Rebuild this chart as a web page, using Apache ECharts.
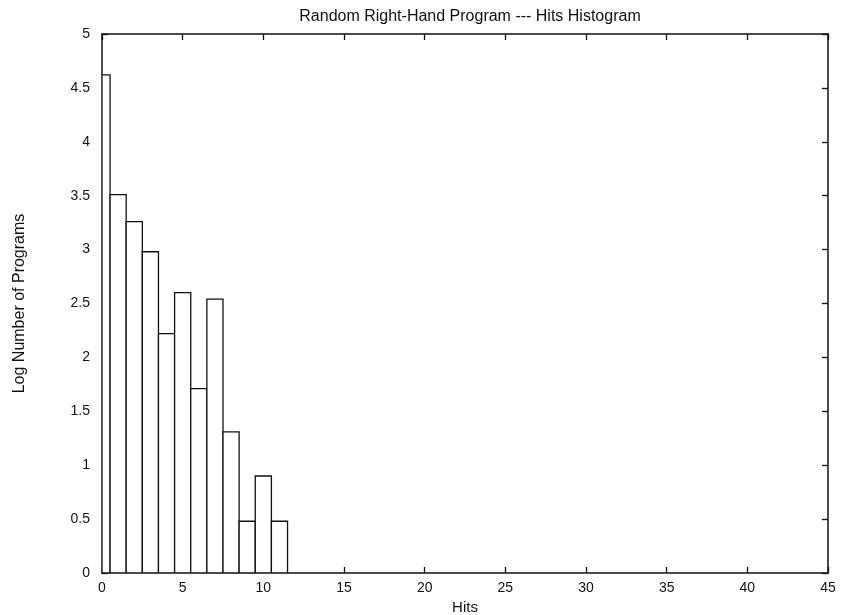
<!DOCTYPE html>
<html>
<head>
<meta charset="utf-8">
<script src="https://cdn.jsdelivr.net/npm/echarts@6/dist/echarts.min.js"></script>
<style>
  html, body { margin: 0; padding: 0; background: #fff; }
  #hits_chart { width: 841px; height: 615px; }
</style>
</head>
<body>
<div id="hits_chart"></div>
<script>
// hits histogram (log counts)
var hits = [0, 1, 2, 3, 4, 5, 6, 7, 8, 9, 10, 11];
var logPrograms = [4.62, 3.51, 3.26, 2.98, 2.22, 2.60, 1.71, 2.54, 1.31, 0.48, 0.90, 0.48];
var xTicks = [0, 5, 10, 15, 20, 25, 30, 35, 40, 45];
var yTicks = [0, 0.5, 1, 1.5, 2, 2.5, 3, 3.5, 4, 4.5, 5];

var chart = echarts.init(document.getElementById('hits_chart'));

var boxData = [];
for (var i = 0; i < hits.length; i++) {
    boxData.push([hits[i], logPrograms[i]]);
}

var font = 'Liberation Sans, Arial, sans-serif';
var black = '#111';

function renderBox(params, api) {
    var x = api.value(0);
    var v = api.value(1);
    var left = Math.max(x - 0.5, 0);
    var p0 = api.coord([left, 0]);
    var p1 = api.coord([x + 0.5, v]);
    return {
        type: 'rect',
        shape: { x: p0[0], y: p1[1], width: p1[0] - p0[0], height: p0[1] - p1[1] },
        style: { fill: '#fff', stroke: black, lineWidth: 1.3 }
    };
}

function makeAxis(extra) {
    var a = {
        type: 'value',
        axisLine: { show: true, onZero: false, lineStyle: { color: black, width: 1.5 } },
        axisTick: { show: true, inside: true, length: 6, lineStyle: { color: black, width: 1.3 } },
        splitLine: { show: false }
    };
    for (var k in extra) a[k] = extra[k];
    return a;
}

var option = {
    backgroundColor: '#fff',
    animation: false,
    title: {
        text: 'Random Right-Hand Program --- Hits Histogram',
        left: 465,
        textAlign: 'center',
        top: 4,
        textStyle: { fontFamily: font, fontSize: 16, fontWeight: 'normal', color: black }
    },
    grid: { left: 102, right: 13, top: 34, bottom: 42, outerBoundsMode: 'none', containLabel: false },
    xAxis: [
        makeAxis({
            min: 0, max: 45, interval: 5,
            position: 'bottom',
            name: 'Hits',
            nameLocation: 'middle',
            nameGap: 26,
            nameTextStyle: { fontFamily: font, fontSize: 15, color: black },
            axisLabel: {
                fontFamily: font, fontSize: 14, color: black, margin: 8,
                formatter: function (v) { return xTicks.indexOf(v) >= 0 ? String(v) : ''; }
            }
        }),
        makeAxis({
            min: 0, max: 45, interval: 5,
            position: 'top',
            axisLabel: { show: false }
        })
    ],
    yAxis: [
        makeAxis({
            min: 0, max: 5, interval: 0.5,
            position: 'left',
            name: 'Log Number of Programs',
            nameLocation: 'middle',
            nameGap: 74,
            nameTextStyle: { fontFamily: font, fontSize: 16, color: black },
            axisLabel: {
                fontFamily: font, fontSize: 14, color: black, margin: 12,
                formatter: function (v) { return yTicks.indexOf(v) >= 0 ? String(v) : ''; }
            }
        }),
        makeAxis({
            min: 0, max: 5, interval: 0.5,
            position: 'right',
            axisLabel: { show: false }
        })
    ],
    series: [{
        name: 'hits',
        type: 'custom',
        renderItem: renderBox,
        encode: { x: 0, y: 1 },
        data: boxData,
        clip: true
    }]
};

chart.setOption(option);
</script>
</body>
</html>
